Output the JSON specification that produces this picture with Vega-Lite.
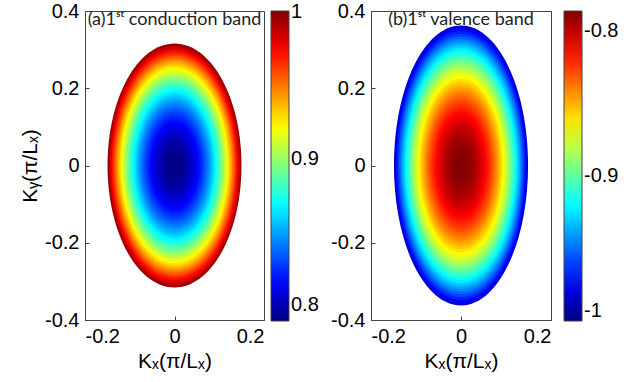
{
  "$schema": "https://vega.github.io/schema/vega-lite/v6.json",
  "padding": {"left": 19, "top": 0, "right": 0, "bottom": 0},
  "spacing": 10,
  "config": {
    "view": {"stroke": "#444", "strokeWidth": 1},
    "axis": {"labelFont": "Liberation Sans", "labelFontSize": 20, "labelColor": "black", "titleFont": "Liberation Sans", "titleFontSize": 21, "titleFontWeight": "normal", "titleColor": "black", "grid": false, "domainColor": "#444", "tickColor": "#444", "tickSize": -4, "labelPadding": 10},
    "legend": {"gradientLength": 310, "gradientThickness": 18, "labelFont": "Liberation Sans", "labelFontSize": 20, "labelColor": "black", "offset": 7, "padding": 0, "gradientStrokeColor": "#444", "gradientStrokeWidth": 1, "labelOffset": 4, "labelOverlap": false}
  },
  "resolve": {"scale": {"color": "independent", "size": "independent", "x": "independent", "y": "independent"}, "legend": {"color": "independent"}},
  "hconcat": [
    {
      "width": 179, "height": 309,
      "layer": [
        {
          "data": {"values": [
            {"r":1.00,"v":0.9958},{"r":0.98,"v":0.9876},{"r":0.96,"v":0.9795},{"r":0.94,"v":0.9716},{"r":0.92,"v":0.9639},
            {"r":0.90,"v":0.9563},{"r":0.88,"v":0.9489},{"r":0.86,"v":0.9417},{"r":0.84,"v":0.9347},{"r":0.82,"v":0.9278},
            {"r":0.80,"v":0.9211},{"r":0.78,"v":0.9145},{"r":0.76,"v":0.9081},{"r":0.74,"v":0.9019},{"r":0.72,"v":0.8959},
            {"r":0.70,"v":0.8900},{"r":0.68,"v":0.8843},{"r":0.66,"v":0.8787},{"r":0.64,"v":0.8733},{"r":0.62,"v":0.8681},
            {"r":0.60,"v":0.8631},{"r":0.58,"v":0.8582},{"r":0.56,"v":0.8535},{"r":0.54,"v":0.8490},{"r":0.52,"v":0.8446},
            {"r":0.50,"v":0.8404},{"r":0.48,"v":0.8364},{"r":0.46,"v":0.8325},{"r":0.44,"v":0.8288},{"r":0.42,"v":0.8253},
            {"r":0.40,"v":0.8219},{"r":0.38,"v":0.8187},{"r":0.36,"v":0.8157},{"r":0.34,"v":0.8129},{"r":0.32,"v":0.8102},
            {"r":0.30,"v":0.8077},{"r":0.28,"v":0.8053},{"r":0.26,"v":0.8031},{"r":0.24,"v":0.8011},{"r":0.22,"v":0.7993},
            {"r":0.20,"v":0.7976},{"r":0.18,"v":0.7961},{"r":0.16,"v":0.7947},{"r":0.14,"v":0.7935},{"r":0.12,"v":0.7925},
            {"r":0.10,"v":0.7917},{"r":0.08,"v":0.7910},{"r":0.06,"v":0.7905},{"r":0.04,"v":0.7902},{"r":0.02,"v":0.7900}
          ]},
          "mark": {"type": "point", "shape": "M0,-1C0.3032,-1 0.549,-0.5523 0.549,0C0.549,0.5523 0.3032,1 0,1C-0.3032,1 -0.549,0.5523 -0.549,0C-0.549,-0.5523 -0.3032,-1 0,-1Z", "filled": true, "opacity": 1, "strokeWidth": 0},
          "encoding": {
            "x": {"datum": 0, "type": "quantitative", "scale": {"domain": [-0.2, 0.2], "nice": false}, "axis": {"values": [-0.2, 0, 0.2], "title": "Kₓ(π/Lₓ)", "labelExpr": "replace(format(datum.value, '.1~f'), '−', '-')"}},
            "y": {"datum": 0, "type": "quantitative", "scale": {"domain": [-0.4, 0.4], "nice": false}, "axis": {"values": [-0.4, -0.2, 0, 0.2, 0.4], "title": "Kᵧ(π/Lₓ)", "labelExpr": "replace(format(datum.value, '.1~f'), '−', '-')"}},
            "size": {"field": "r", "type": "quantitative", "scale": {"type": "pow", "exponent": 2, "domain": [0, 1], "range": [0, 59536]}, "legend": null},
            "color": {"field": "v", "type": "quantitative", "scale": {"domain": [0.789, 0.8155, 0.8685, 0.9215, 0.9745, 1.001], "range": ["#000080", "#0000ff", "#00ffff", "#ffff00", "#ff0000", "#800000"], "interpolate": "rgb"}, "legend": {"values": [0.8, 0.9, 1], "title": null, "format": ".1~f"}}
          }
        },
        {
          "data": {"values": [{"label": "(a)1ˢᵗ conduction band"}]},
          "mark": {"type": "text", "font": "Lato", "fontSize": 18, "align": "center", "baseline": "alphabetic", "dy": 14, "color": "#222"},
          "encoding": {"x": {"datum": 0, "type": "quantitative"}, "y": {"datum": 0.4, "type": "quantitative"}, "text": {"field": "label"}}
        }
      ]
    },
    {
      "width": 180, "height": 309,
      "layer": [
        {
          "data": {"values": [
            {"r":1.00,"v":-0.9820},{"r":0.98,"v":-0.9742},{"r":0.96,"v":-0.9665},{"r":0.94,"v":-0.9590},{"r":0.92,"v":-0.9516},
            {"r":0.90,"v":-0.9444},{"r":0.88,"v":-0.9374},{"r":0.86,"v":-0.9305},{"r":0.84,"v":-0.9238},{"r":0.82,"v":-0.9172},
            {"r":0.80,"v":-0.9108},{"r":0.78,"v":-0.9046},{"r":0.76,"v":-0.8985},{"r":0.74,"v":-0.8926},{"r":0.72,"v":-0.8868},
            {"r":0.70,"v":-0.8812},{"r":0.68,"v":-0.8758},{"r":0.66,"v":-0.8705},{"r":0.64,"v":-0.8654},{"r":0.62,"v":-0.8604},
            {"r":0.60,"v":-0.8556},{"r":0.58,"v":-0.8510},{"r":0.56,"v":-0.8465},{"r":0.54,"v":-0.8422},{"r":0.52,"v":-0.8380},
            {"r":0.50,"v":-0.8340},{"r":0.48,"v":-0.8302},{"r":0.46,"v":-0.8265},{"r":0.44,"v":-0.8230},{"r":0.42,"v":-0.8196},
            {"r":0.40,"v":-0.8164},{"r":0.38,"v":-0.8134},{"r":0.36,"v":-0.8105},{"r":0.34,"v":-0.8078},{"r":0.32,"v":-0.8052},
            {"r":0.30,"v":-0.8028},{"r":0.28,"v":-0.8006},{"r":0.26,"v":-0.7985},{"r":0.24,"v":-0.7966},{"r":0.22,"v":-0.7948},
            {"r":0.20,"v":-0.7932},{"r":0.18,"v":-0.7918},{"r":0.16,"v":-0.7905},{"r":0.14,"v":-0.7894},{"r":0.12,"v":-0.7884},
            {"r":0.10,"v":-0.7876},{"r":0.08,"v":-0.7870},{"r":0.06,"v":-0.7865},{"r":0.04,"v":-0.7862},{"r":0.02,"v":-0.7860}
          ]},
          "mark": {"type": "point", "shape": "M0,-1C0.2645,-1 0.479,-0.5523 0.479,0C0.479,0.5523 0.2645,1 0,1C-0.2645,1 -0.479,0.5523 -0.479,0C-0.479,-0.5523 -0.2645,-1 0,-1Z", "filled": true, "opacity": 1, "strokeWidth": 0},
          "encoding": {
            "x": {"datum": 0, "type": "quantitative", "scale": {"domain": [-0.2, 0.2], "nice": false}, "axis": {"values": [-0.2, 0, 0.2], "title": "Kₓ(π/Lₓ)", "labelExpr": "replace(format(datum.value, '.1~f'), '−', '-')"}},
            "y": {"datum": 0, "type": "quantitative", "scale": {"domain": [-0.4, 0.4], "nice": false}, "axis": {"values": [-0.4, -0.2, 0, 0.2, 0.4], "title": null, "labelExpr": "replace(format(datum.value, '.1~f'), '−', '-')"}},
            "size": {"field": "r", "type": "quantitative", "scale": {"type": "pow", "exponent": 2, "domain": [0, 1], "range": [0, 78400]}, "legend": null},
            "color": {"field": "v", "type": "quantitative", "scale": {"domain": [-1.0, -0.97325, -0.91975, -0.86625, -0.81275, -0.786], "range": ["#000080", "#0000ff", "#00ffff", "#ffff00", "#ff0000", "#800000"], "interpolate": "rgb"}, "legend": {"values": [-1, -0.9, -0.8], "title": null, "offset": 13, "labelExpr": "replace(format(datum.value, '.1~f'), '−', '-')"}}
          }
        },
        {
          "data": {"values": [{"label": "(b)1ˢᵗ valence band"}]},
          "mark": {"type": "text", "font": "Lato", "fontSize": 18, "align": "center", "baseline": "alphabetic", "dy": 14, "color": "#222"},
          "encoding": {"x": {"datum": 0, "type": "quantitative"}, "y": {"datum": 0.4, "type": "quantitative"}, "text": {"field": "label"}}
        }
      ]
    }
  ]
}
